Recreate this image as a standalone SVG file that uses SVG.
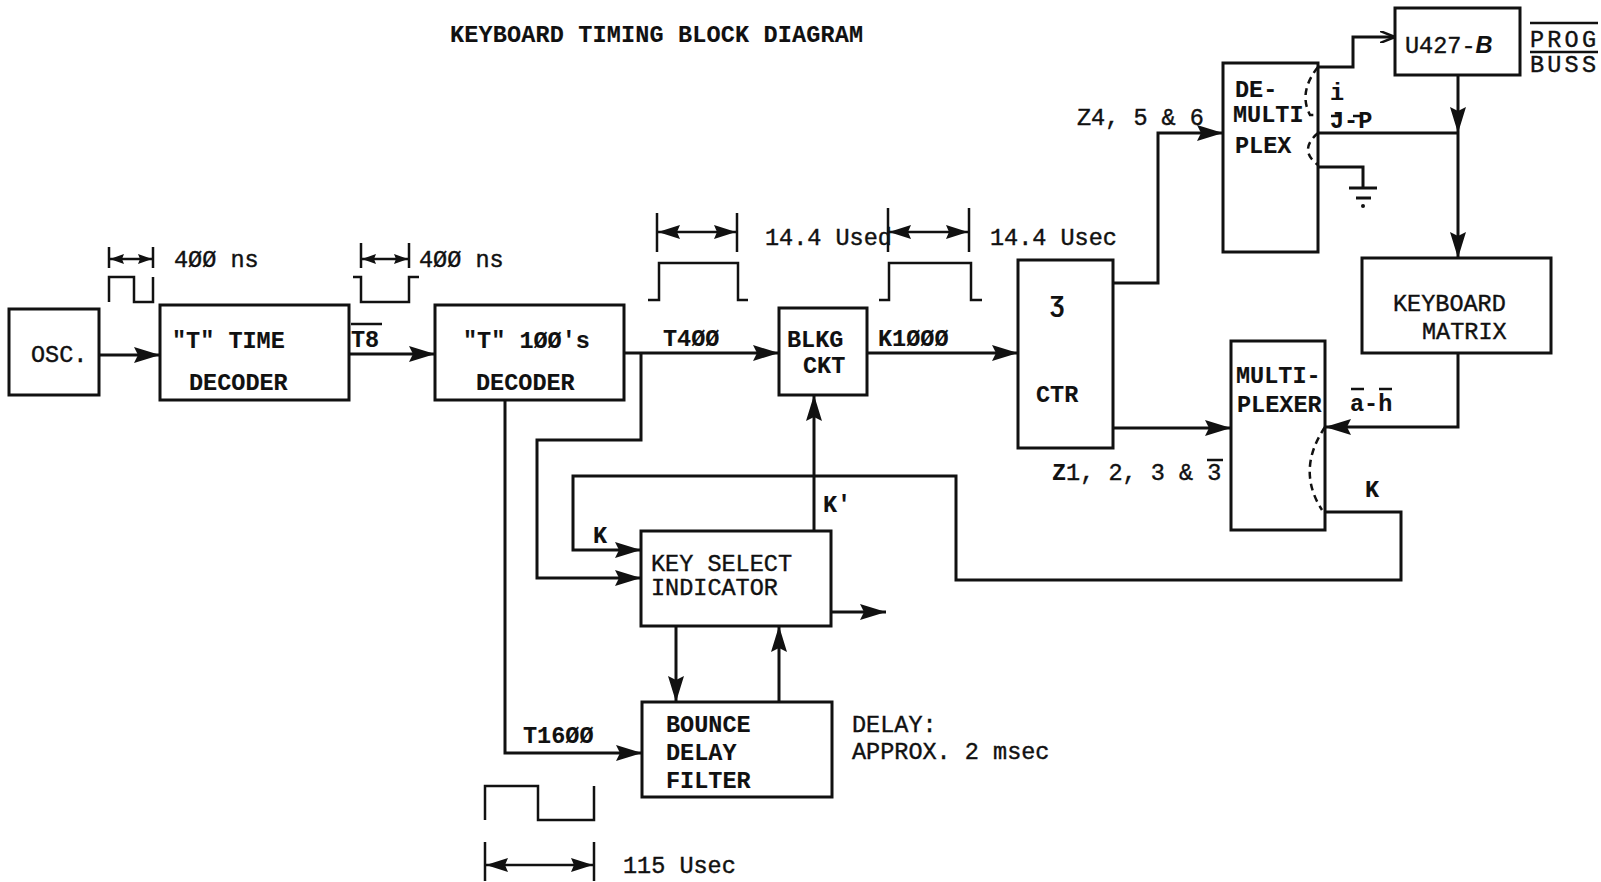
<svg xmlns="http://www.w3.org/2000/svg" width="1601" height="882" viewBox="0 0 1601 882">
<style>
  .box{fill:none;stroke:#111;stroke-width:3}
  .ln{fill:none;stroke:#111;stroke-width:3}
  .dim{fill:none;stroke:#111;stroke-width:2.5}
  .dash{fill:none;stroke:#111;stroke-width:2.5;stroke-dasharray:7 5}
  text{font-family:"Liberation Mono","DejaVu Sans Mono",monospace;font-size:23.5px;fill:#111;stroke:#111;stroke-width:0.4}
  .b{font-weight:bold;stroke-width:0.1}
</style>
<defs>
  <marker id="ah" viewBox="0 0 26 16" refX="26" refY="8" markerWidth="26" markerHeight="16" markerUnits="userSpaceOnUse" orient="auto">
    <path d="M0,0 L26,8 L0,16 L4,8 z" fill="#111"/>
  </marker>
  <marker id="dh" viewBox="0 0 22 14" refX="22" refY="7" markerWidth="22" markerHeight="14" markerUnits="userSpaceOnUse" orient="auto-start-reverse">
    <path d="M0,0 L22,7 L0,14 L3,7 z" fill="#111"/>
  </marker>
  <marker id="sh" viewBox="0 0 14 10" refX="14" refY="5" markerWidth="14" markerHeight="10" markerUnits="userSpaceOnUse" orient="auto-start-reverse">
    <path d="M0,0 L14,5 L0,10 L2,5 z" fill="#111"/>
  </marker>
  <marker id="oh" viewBox="0 0 16 12" refX="15" refY="6" markerWidth="16" markerHeight="12" markerUnits="userSpaceOnUse" orient="auto">
    <path d="M0,0 L15,6 L0,12" fill="none" stroke="#111" stroke-width="2.5"/>
  </marker>
</defs>
<rect width="1601" height="882" fill="#fff"/>

<text class="b" x="450" y="42" textLength="413">KEYBOARD TIMING BLOCK DIAGRAM</text>

<g id="osc"><rect class="box" x="9" y="309" width="90" height="86"/><text x="31" y="362">OSC.</text></g>
<g id="t-time-decoder"><rect class="box" x="160" y="305" width="189" height="95"/><text class="b" x="172" y="348">"T" TIME</text><text class="b" x="189" y="390">DECODER</text></g>
<g id="t100-decoder"><rect class="box" x="435" y="305" width="189" height="95"/><text class="b" x="463" y="348">"T" 1ØØ's</text><text class="b" x="476" y="390">DECODER</text></g>
<g id="blkg-ckt"><rect class="box" x="779" y="308" width="88" height="87"/><text class="b" x="787" y="347">BLKG</text><text class="b" x="803" y="373">CKT</text></g>
<g id="ctr"><rect class="box" x="1018" y="260" width="95" height="188"/><text class="b" x="1050" y="312">Ʒ</text><text class="b" x="1036" y="402">CTR</text></g>
<g id="demultiplex"><rect class="box" x="1223" y="63" width="95" height="189"/><text class="b" x="1235" y="97">DE-</text><text class="b" x="1233" y="122">MULTI</text><text class="b" x="1235" y="153">PLEX</text></g>
<g id="u427"><rect class="box" x="1395" y="8" width="125" height="67"/><text x="1405" y="53">U427-<tspan class="b" font-style="italic" font-family="Liberation Sans, sans-serif">B</tspan></text></g>
<g id="keyboard-matrix"><rect class="box" x="1362" y="258" width="189" height="95"/><text x="1393" y="311">KEYBOARD</text><text x="1422" y="339">MATRIX</text></g>
<g id="multiplexer"><rect class="box" x="1231" y="341" width="94" height="189"/><text class="b" x="1236" y="383">MULTI-</text><text class="b" x="1237" y="412">PLEXER</text></g>
<g id="key-select"><rect class="box" x="641" y="531" width="190" height="95"/><text x="651" y="571">KEY SELECT</text><text x="651" y="595">INDICATOR</text></g>
<g id="bounce"><rect class="box" x="642" y="702" width="190" height="95"/><text class="b" x="666" y="732">BOUNCE</text><text class="b" x="666" y="760">DELAY</text><text class="b" x="666" y="788">FILTER</text></g>

<g id="connectors">
  <path class="ln" d="M99,355 H160" marker-end="url(#ah)"/>
  <path class="ln" d="M349,354 H435" marker-end="url(#ah)"/>
  <path class="ln" d="M624,353 H779" marker-end="url(#ah)"/>
  <path class="ln" d="M867,353 H1018" marker-end="url(#ah)"/>
  <path class="ln" d="M641,353 V440 H537 V578 H641" marker-end="url(#ah)"/>
  <path class="ln" d="M505,400 V753 H642" marker-end="url(#ah)"/>
  <path class="ln" d="M1113,283 H1158 V133 H1223" marker-end="url(#ah)"/>
  <path class="ln" d="M1113,428 H1231" marker-end="url(#ah)"/>
  <path class="ln" d="M1318,67 H1353 V37 H1395" marker-end="url(#oh)"/>
  <path class="ln" d="M1458,75 V133" marker-end="url(#ah)"/>
  <path class="ln" d="M1458,133 V258" marker-end="url(#ah)"/>
  <path class="ln" d="M1318,133 H1458"/>
  <path class="ln" d="M1318,167 H1363 V188"/>
  <path class="ln" d="M1458,353 V427 H1325" marker-end="url(#ah)"/>
  <path class="ln" d="M1325,512 H1401 V580 H956 V476 H573 V550 H641" marker-end="url(#ah)"/>
  <path class="ln" d="M814,531 V395" marker-end="url(#ah)"/>
  <path class="ln" d="M676,626 V702" marker-end="url(#ah)"/>
  <path class="ln" d="M779,702 V626" marker-end="url(#ah)"/>
  <path class="ln" d="M831,612 H886" marker-end="url(#ah)"/>
  <path class="dash" d="M1318,67 Q1298,92 1310,115 H1318"/>
  <path class="dash" d="M1318,133 Q1298,150 1318,165"/>
  <path class="dash" d="M1325,427 Q1296,470 1322,510"/>
</g>

<g id="ground">
  <path class="ln" d="M1349,188 H1377"/>
  <path class="ln" d="M1356,198 H1371"/>
  <circle cx="1363" cy="206" r="2" fill="#111"/>
</g>

<g id="waveforms">
  <path class="dim" d="M109,302 V277 H134 V302 H153 V277"/>
  <path class="dim" d="M353,277 H361 V302 H409 V277 H419"/>
  <path class="dim" d="M648,300 H659 V263 H738 V300 H748"/>
  <path class="dim" d="M879,300 H889 V263 H971 V300 H982"/>
  <path class="dim" d="M485,820 V786 H538 V820 H594 V786"/>
  <path class="dim" d="M109,247 V268 M153,247 V268"/>
  <path class="dim" d="M110,259 H152" marker-start="url(#sh)" marker-end="url(#sh)"/>
  <path class="dim" d="M361,243 V268 M409,243 V268"/>
  <path class="dim" d="M362,259 H408" marker-start="url(#sh)" marker-end="url(#sh)"/>
  <path class="dim" d="M657,213 V252 M737,213 V252"/>
  <path class="dim" d="M658,232 H736" marker-start="url(#dh)" marker-end="url(#dh)"/>
  <path class="dim" d="M888,208 V252 M969,208 V252"/>
  <path class="dim" d="M889,232 H968" marker-start="url(#dh)" marker-end="url(#dh)"/>
  <path class="dim" d="M485,842 V881 M594,842 V881"/>
  <path class="dim" d="M486,865 H593" marker-start="url(#dh)" marker-end="url(#dh)"/>
</g>

<g id="labels">
  <text x="174" y="267">4ØØ ns</text>
  <text x="419" y="267">4ØØ ns</text>
  <text class="b" x="351" y="347">T8</text>
  <path class="dim" d="M351,324 H382"/>
  <text class="b" x="663" y="346">T4ØØ</text>
  <text x="765" y="245">14.4 Used</text>
  <text class="b" x="878" y="346">K1ØØØ</text>
  <text x="990" y="245">14.4 Usec</text>
  <text x="1077" y="125">Z4, 5 &amp; 6</text>
  <text x="1530" y="47" font-family="Liberation Serif, serif" textLength="66">PROG</text>
  <text x="1530" y="72" font-family="Liberation Serif, serif" textLength="66">BUSS</text>
  <path class="dim" d="M1530,23 H1598 M1530,52 H1598" stroke-width="2"/>
  <text class="b" x="1330" y="100" font-size="20">i</text>
  <text class="b" x="1330" y="128" font-size="18">J-P</text>
  <path class="dim" d="M1331,116 H1341 M1353,116 H1363" stroke-width="2"/>
  <text class="b" x="1350" y="411">a-h</text>
  <path class="dim" d="M1351,389 H1364 M1379,389 H1392" stroke-width="2"/>
  <text x="1052" y="480"><tspan class="b">Z</tspan>1, 2, 3 &amp; 3</text>
  <path class="dim" d="M1207,460 H1223" stroke-width="2"/>
  <text class="b" x="1365" y="497">K</text>
  <text class="b" x="593" y="543">K</text>
  <text class="b" x="823" y="512">K'</text>
  <text class="b" x="523" y="743">T16ØØ</text>
  <text x="852" y="732">DELAY:</text>
  <text x="852" y="759">APPROX. 2 msec</text>
  <text x="623" y="873">115 Usec</text>
</g>
</svg>
